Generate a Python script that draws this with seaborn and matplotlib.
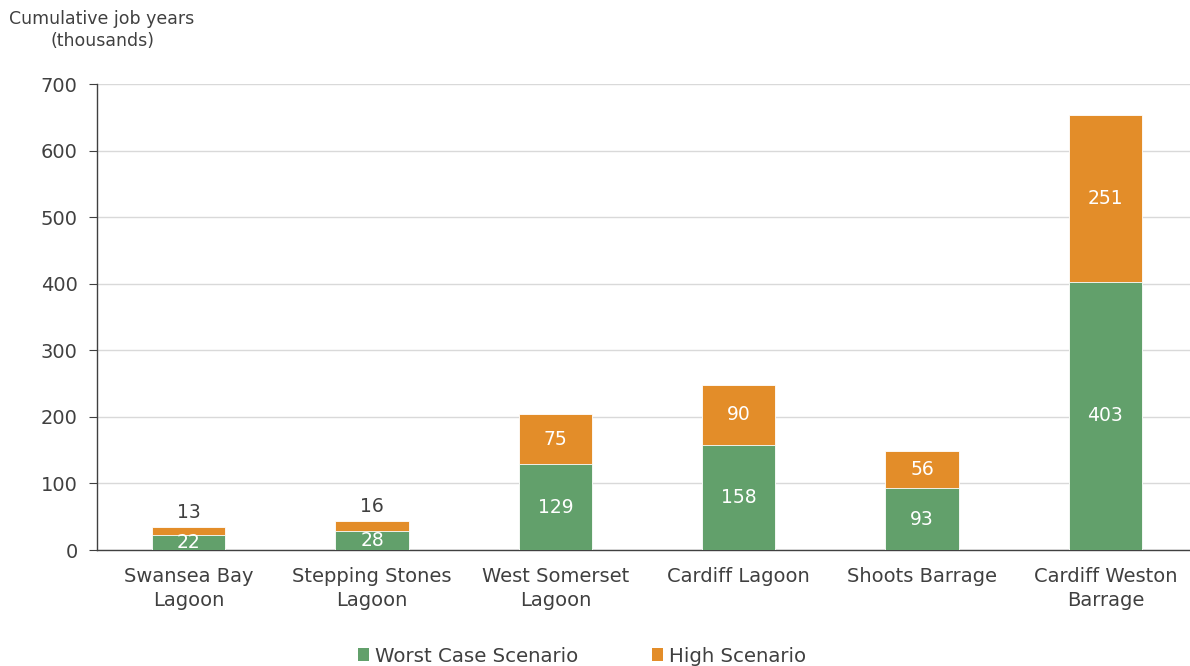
import matplotlib
matplotlib.use("Agg")
import matplotlib.pyplot as plt
import seaborn as sns
import pandas as pd
import numpy as np
from matplotlib.patches import Patch

categories = ["Swansea Bay\nLagoon", "Stepping Stones\nLagoon", "West Somerset\nLagoon",
              "Cardiff Lagoon", "Shoots Barrage", "Cardiff Weston\nBarrage"]
worst_case = [22, 28, 129, 158, 93, 403]
high = [13, 16, 75, 90, 56, 251]
y_ticks = [0, 100, 200, 300, 400, 500, 600, 700]

GREEN = "#62A06B"
ORANGE = "#E38D29"
TEXT = "#404040"

sns.set_theme(style="white")
plt.rcParams["font.family"] = ["DejaVu Sans"]

df = pd.DataFrame({"cat": categories, "worst": worst_case, "high": high})
df["total"] = df["worst"] + df["high"]

fig = plt.figure(figsize=(11.9, 6.66), dpi=100)
ax = fig.add_axes([97 / 1190, 116 / 666, 1100 / 1190, 466 / 666])

sns.barplot(data=df, x="cat", y="total", color=ORANGE, saturation=1, width=0.4,
            edgecolor="white", linewidth=0.6, ax=ax, zorder=3)
sns.barplot(data=df, x="cat", y="worst", color=GREEN, saturation=1, width=0.4,
            edgecolor="white", linewidth=0.6, ax=ax, zorder=3)

ax.set_xlim(-0.5, 5.5)
ax.set_ylim(0, 700)
ax.set_yticks(y_ticks)
ax.yaxis.grid(True, color="#D9D9D9", linewidth=1, zorder=0)
ax.set_axisbelow(True)
ax.set_xlabel("")
ax.set_ylabel("")
for s in ["top", "right"]:
    ax.spines[s].set_visible(False)
ax.spines["left"].set_color("#404040")
ax.spines["bottom"].set_color("#404040")
ax.spines["left"].set_linewidth(1.0)
ax.spines["bottom"].set_linewidth(1.0)
ax.tick_params(axis="y", left=True, length=6, width=0.8, color="#404040",
               labelsize=14, labelcolor=TEXT, pad=8)
ax.tick_params(axis="x", bottom=False, labelsize=14, labelcolor=TEXT, pad=6)
for lbl in ax.get_xticklabels():
    lbl.set_linespacing(1.35)

for i, (w, h) in enumerate(zip(worst_case, high)):
    ax.text(i, w / 2, str(w), ha="center", va="center", color="white",
            fontsize=13.5, zorder=5)
    if h < 30:
        ax.text(i, w + h + 22, str(h), ha="center", va="center", color=TEXT,
                fontsize=13.5, zorder=5)
    else:
        ax.text(i, w + h / 2, str(h), ha="center", va="center", color="white",
                fontsize=13.5, zorder=5)

fig.text(102 / 1190, 1 - 30 / 666, "Cumulative job years\n(thousands)", ha="center",
         va="center", fontsize=12.5, color=TEXT, linespacing=1.35)

handles = [Patch(facecolor=GREEN, edgecolor="none"), Patch(facecolor=ORANGE, edgecolor="none")]
fig.legend(handles, ["Worst Case Scenario", "High Scenario"], loc="center",
           bbox_to_anchor=(582 / 1190, 1 - 656 / 666), ncol=2, frameon=False,
           fontsize=14.2, handlelength=0.6, handleheight=0.6, handletextpad=0.3,
           columnspacing=3.7, labelcolor=TEXT)

fig.savefig("out.png", dpi=100)
